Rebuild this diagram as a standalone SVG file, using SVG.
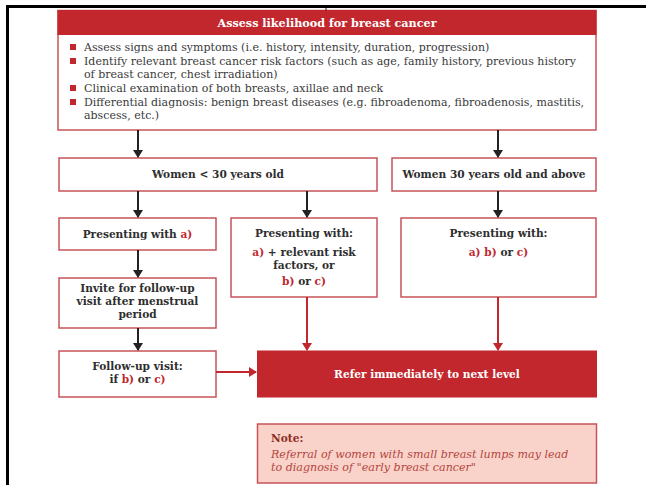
<svg xmlns="http://www.w3.org/2000/svg" width="646" height="485" viewBox="0 0 646 485">
  <style>
    .box { fill: #ffffff; stroke: #c8545a; stroke-width: 1.5; }
    .redbox { fill: #c1272d; stroke: #c1272d; stroke-width: 1; }
    .note { fill: #f9d3c9; stroke: #c8545a; stroke-width: 1.5; }
    .b { font-family: "DejaVu Serif", "Liberation Serif", serif; font-weight: bold; font-size: 10.6px; fill: #2e2e2e; text-anchor: middle; }
    .t { font-family: "DejaVu Serif", "Liberation Serif", serif; font-size: 11px; fill: #3a3a3a; }
    .hd { font-family: "DejaVu Serif", "Liberation Serif", serif; font-weight: bold; font-size: 11.2px; fill: #ffffff; text-anchor: middle; }
    .r { fill: #c1272d; }
    .it { font-family: "DejaVu Serif", "Liberation Serif", serif; font-style: italic; font-size: 11.1px; fill: #b5443f; }
    .nb { font-family: "DejaVu Serif", "Liberation Serif", serif; font-weight: bold; font-size: 10.6px; fill: #8e2a25; }
    .blk { stroke: #222222; stroke-width: 2; fill: none; }
    .red { stroke: #c1272d; stroke-width: 2; fill: none; }
  </style>
  <defs>
    <marker id="ahBlack" markerWidth="10" markerHeight="10" refX="7" refY="5" orient="auto" markerUnits="userSpaceOnUse">
      <path d="M0,0 L8,5 L0,10 Z" fill="#222222"/>
    </marker>
    <marker id="ahRed" markerWidth="10" markerHeight="10" refX="7" refY="5" orient="auto" markerUnits="userSpaceOnUse">
      <path d="M0,0 L8,5 L0,10 Z" fill="#c1272d"/>
    </marker>
  </defs>

  <rect width="646" height="485" fill="#ffffff"/>

  <!-- page frame -->
  <g id="frame" stroke="#000000" stroke-width="3" fill="none">
    <line x1="6" y1="6.5" x2="646" y2="6.5"/>
    <line x1="7.5" y1="5" x2="7.5" y2="485"/>
  </g>

  <!-- assessment box -->
  <g id="assess">
    <rect class="box" x="58" y="10.5" width="538" height="119.5"/>
    <rect class="redbox" x="58" y="10.5" width="538" height="24"/>
    <text class="hd" x="327" y="27">Assess likelihood for breast cancer</text>
    <rect class="r" x="70" y="44" width="6" height="6"/>
    <rect class="r" x="70" y="58" width="6" height="6"/>
    <rect class="r" x="70" y="85" width="6" height="6"/>
    <rect class="r" x="70" y="99" width="6" height="6"/>
    <text class="t" x="84" y="51">Assess signs and symptoms (i.e. history, intensity, duration, progression)</text>
    <text class="t" x="84" y="65">Identify relevant breast cancer risk factors (such as age, family history, previous history</text>
    <text class="t" x="84" y="78">of breast cancer, chest irradiation)</text>
    <text class="t" x="84" y="92">Clinical examination of both breasts, axillae and neck</text>
    <text class="t" x="84" y="106">Differential diagnosis: benign breast diseases (e.g. fibroadenoma, fibroadenosis, mastitis,</text>
    <text class="t" x="84" y="119">abscess, etc.)</text>
  </g>

  <g id="under30">
    <rect class="box" x="59" y="158" width="318" height="33"/>
    <text class="b" x="218" y="178">Women &lt; 30 years old</text>
  </g>

  <g id="over30">
    <rect class="box" x="392" y="158" width="204" height="33"/>
    <text class="b" x="494" y="178">Women 30 years old and above</text>
  </g>

  <g id="presentA">
    <rect class="box" x="59" y="218" width="157" height="32"/>
    <text class="b" x="137.5" y="238">Presenting with <tspan class="r">a)</tspan></text>
  </g>

  <g id="presentRisk">
    <rect class="box" x="231" y="218" width="146" height="79"/>
    <text class="b" x="304" y="237">Presenting with:</text>
    <text class="b" x="304" y="256"><tspan class="r">a)</tspan> + relevant risk</text>
    <text class="b" x="304" y="269">factors, or</text>
    <text class="b" x="304" y="285"><tspan class="r">b)</tspan> or <tspan class="r">c)</tspan></text>
  </g>

  <g id="presentABC">
    <rect class="box" x="401" y="218" width="195" height="79"/>
    <text class="b" x="498.5" y="237">Presenting with:</text>
    <text class="b" x="498.5" y="256"><tspan class="r">a)</tspan> <tspan class="r">b)</tspan> or <tspan class="r">c)</tspan></text>
  </g>

  <g id="invite">
    <rect class="box" x="59" y="278" width="157" height="50"/>
    <text class="b" x="137.5" y="292">Invite for follow-up</text>
    <text class="b" x="137.5" y="305">visit after menstrual</text>
    <text class="b" x="137.5" y="318">period</text>
  </g>

  <g id="followup">
    <rect class="box" x="59" y="351" width="157" height="46"/>
    <text class="b" x="137.5" y="370">Follow-up visit:</text>
    <text class="b" x="137.5" y="383">if <tspan class="r">b)</tspan> or <tspan class="r">c)</tspan></text>
  </g>

  <g id="refer">
    <rect class="redbox" x="257.5" y="351" width="339" height="46"/>
    <text class="b" x="427" y="378" style="fill:#ffffff">Refer immediately to next level</text>
  </g>

  <g id="noteBox">
    <rect class="note" x="257.5" y="424" width="339" height="59"/>
    <text class="nb" x="271" y="442">Note:</text>
    <text class="it" x="271" y="458">Referral of women with small breast lumps may lead</text>
    <text class="it" x="271" y="471">to diagnosis of "early breast cancer"</text>
  </g>

  <g id="connectors">
    <line x1="326" y1="8" x2="326" y2="10.5" stroke="#222222" stroke-width="1"/>
    <line class="blk" x1="138" y1="130" x2="138" y2="157" marker-end="url(#ahBlack)"/>
    <line class="blk" x1="498" y1="130" x2="498" y2="157" marker-end="url(#ahBlack)"/>
    <line class="blk" x1="138" y1="191" x2="138" y2="217" marker-end="url(#ahBlack)"/>
    <line class="blk" x1="307" y1="191" x2="307" y2="217" marker-end="url(#ahBlack)"/>
    <line class="blk" x1="498" y1="191" x2="498" y2="217" marker-end="url(#ahBlack)"/>
    <line class="blk" x1="138" y1="250" x2="138" y2="277" marker-end="url(#ahBlack)"/>
    <line class="blk" x1="138" y1="328" x2="138" y2="350" marker-end="url(#ahBlack)"/>
    <line class="red" x1="307" y1="297" x2="307" y2="350" marker-end="url(#ahRed)"/>
    <line class="red" x1="498" y1="297" x2="498" y2="350" marker-end="url(#ahRed)"/>
    <line class="red" x1="216" y1="372" x2="256" y2="372" marker-end="url(#ahRed)"/>
  </g>
</svg>
